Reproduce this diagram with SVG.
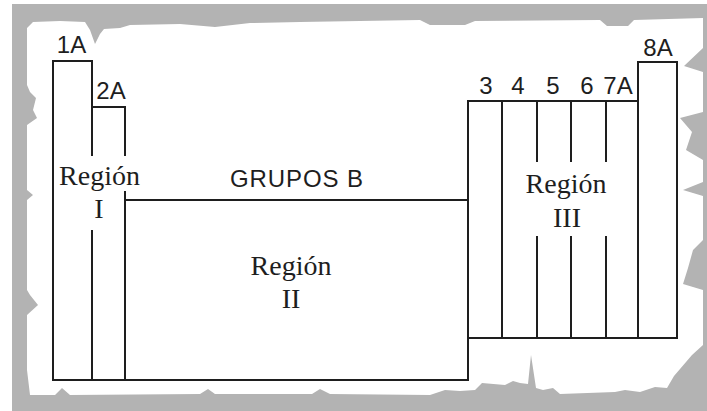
<svg xmlns="http://www.w3.org/2000/svg" width="707" height="411" viewBox="0 0 707 411">
<style>
.ln{stroke:#1e1e1e;stroke-width:2;fill:none;stroke-linecap:square}
.lbl{font-family:"Liberation Sans",Arial,sans-serif;font-size:24px;fill:#1e1e1e;text-anchor:middle}
.reg{font-family:"Liberation Serif","Times New Roman",serif;font-size:28px;fill:#1e1e1e;text-anchor:middle}
</style>
<g id="background">
<rect x="0" y="0" width="707" height="411" fill="#ffffff"/>
<rect x="12" y="4" width="695" height="407" fill="#b3b3b3"/>
<path fill="#ffffff" d="M27,28 L33,22 L60,21 L85,22 L90,30 L95,44 L100,34 L104,29 L120,28 L130,25 L180,24 L215,27 L250,23 L300,22 L360,21 L420,20 L430,25 L465,25 L475,21 L600,20 L607,26 L628,26 L634,20 L703,18 L703,48 L684,66 L703,72 L703,112 L680,118 L692,132 L686,150 L703,160 L703,182 L683,190 L703,196 L703,240 L693,250 L688,268 L683,284 L703,290 L703,345 L692,355 L674,376 L667,388 L655,387 L640,392 L625,390 L615,392 L560,394 L553,388 L548,389 L543,390 L536,388 L531,355 L528,384 L520,383 L513,381 L505,385 L482,383 L475,390 L460,391 L445,390 L430,395 L330,394 L320,389 L312,394 L215,394 L208,389 L200,394 L70,395 L62,388 L55,395 L30,395 L27,370 L27,315 L38,305 L30,295 L27,290 L27,200 L33,195 L27,190 L27,125 L37,118 L33,110 L36,98 L30,92 L27,85 Z"/>
</g>
<g id="region-I">
<path class="ln" d="M53,380 L53,61 L92,61 L92,155 M92,231 L92,380"/>
<path class="ln" d="M92,107 L125,107 L125,155 M125,192 L125,380"/>
<text class="lbl" x="71.5" y="53">1A</text>
<text class="lbl" x="111" y="99">2A</text>
<text class="reg" x="99.5" y="185">Región</text>
<text class="reg" x="99" y="218">I</text>
</g>
<g id="region-II">
<path class="ln" d="M125,200 L468,200 M53,380 L468,380 L468,101"/>
<text class="lbl" x="296.5" y="187" textLength="133" lengthAdjust="spacing">GRUPOS B</text>
<text class="reg" x="291" y="275">Región</text>
<text class="reg" x="291" y="308">II</text>
</g>
<g id="region-III">
<path class="ln" d="M468,101 L638,101 M468,338 L677,338 M502,101 L502,338 M537,101 L537,161 M537,237 L537,338 M571,101 L571,161 M571,237 L571,338 M606,101 L606,161 M606,237 L606,338"/>
<path class="ln" d="M638,338 L638,62 L677,62 L677,338"/>
<text class="lbl" x="486" y="94">3</text>
<text class="lbl" x="518" y="94">4</text>
<text class="lbl" x="553" y="94">5</text>
<text class="lbl" x="587" y="94">6</text>
<text class="lbl" x="618" y="94">7A</text>
<text class="lbl" x="658" y="56">8A</text>
<text class="reg" x="566" y="193">Región</text>
<text class="reg" x="567" y="227">III</text>
</g>
</svg>
